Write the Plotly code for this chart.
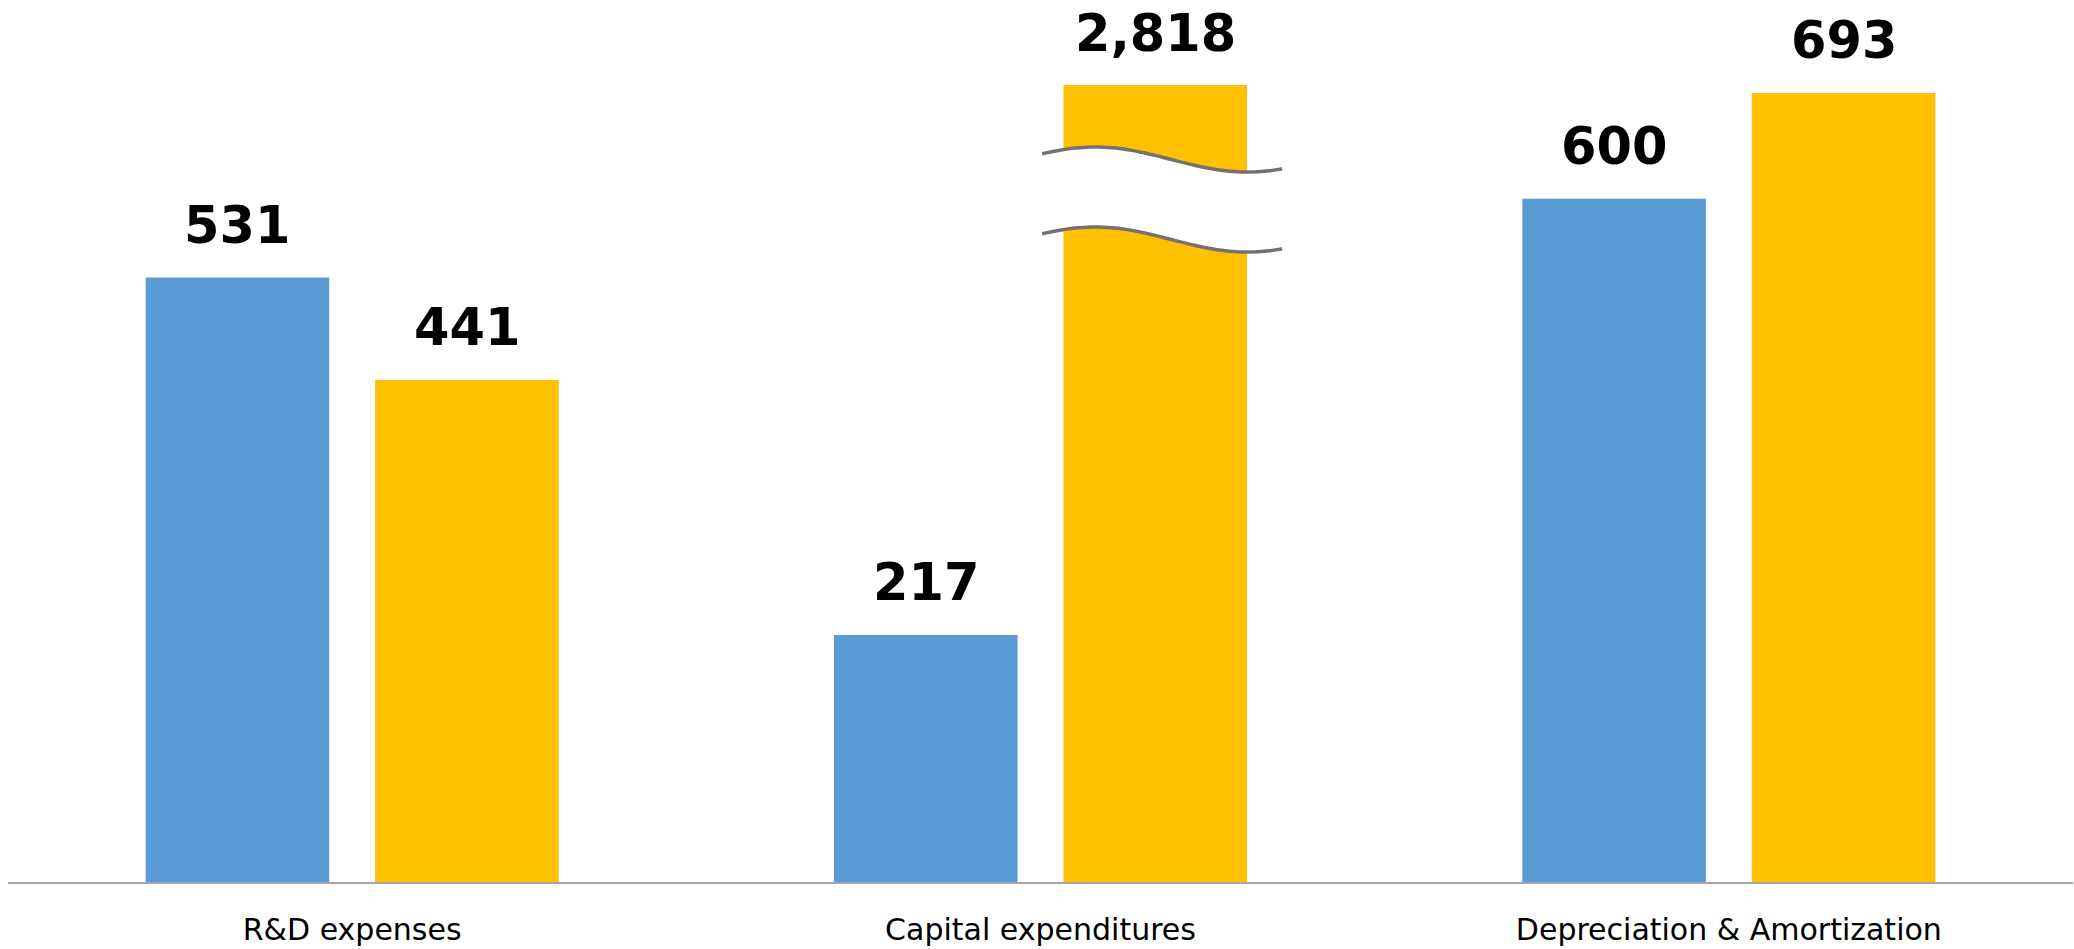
import numpy as np
import plotly.graph_objects as go

# ---------------- data ----------------
categories = ["R&D expenses", "Capital expenditures", "Depreciation & Amortization"]
series_prev = [531, 217, 600]
series_curr = [441, 2818, 693]
labels_prev = ["531", "217", "600"]
labels_curr = ["441", "2,818", "693"]

# ---------------- layout constants ----------------
W, H = 2074, 949
ML, MR, MT, MB = 8, 1, 85, 67
Y_MAX = 700
BARGAP = 1 / 3
plot_w = W - ML - MR
plot_h = H - MT - MB
px_per_unit = plot_h / Y_MAX
cat_w = plot_w / len(categories)
slot = (1 - BARGAP) / 2  # fraction of category per series slot

BLUE = "#5B9BD5"
GOLD = "#FFC000"
LABEL_FONT = dict(family="DejaVu Sans, Verdana, sans-serif", size=51, color="#000000", weight="bold")

fig = go.Figure()
fig.add_bar(x=categories, y=series_prev, name="Previous", marker=dict(color=BLUE, line=dict(width=0)))
fig.add_bar(x=categories, y=series_curr, name="Current", marker=dict(color=GOLD, line=dict(width=0)))

def xpaper(idx, offset_cat, dx_px=0.0):
    return ((idx + 0.5 + offset_cat) * cat_w + dx_px) / plot_w

annotations = []
for i, (v, t) in enumerate(zip(series_prev, labels_prev)):
    annotations.append(dict(x=xpaper(i, -slot / 2), xref="paper", y=min(v, Y_MAX), yref="y",
                            text=t, showarrow=False, xanchor="center", yanchor="middle", yshift=52,
                            font=LABEL_FONT))
for i, (v, t) in enumerate(zip(series_curr, labels_curr)):
    annotations.append(dict(x=xpaper(i, slot / 2), xref="paper", y=min(v, Y_MAX), yref="y",
                            text=t, showarrow=False, xanchor="center", yanchor="middle", yshift=52,
                            font=LABEL_FONT))

# ---------------- axis-break symbol on bars exceeding the axis max ----------------
shapes = []
for i, v in enumerate(series_curr):
    if v <= Y_MAX:
        continue
    dxs = np.linspace(-113, 127, 60)
    A, half_period, peak = 12.5, 152.0, -60.0
    upper_px = 74.5 - A * np.cos(np.pi * (dxs - peak) / half_period)
    lower_px = upper_px + 80.0
    xs = [xpaper(i, slot / 2, d) for d in dxs]
    yu = [Y_MAX - p / px_per_unit for p in upper_px]
    yl = [Y_MAX - p / px_per_unit for p in lower_px]
    fill = "M " + " L ".join(f"{x:.6f},{y:.3f}" for x, y in zip(xs, yu))
    fill += " L " + " L ".join(f"{x:.6f},{y:.3f}" for x, y in zip(xs[::-1], yl[::-1])) + " Z"
    shapes.append(dict(type="path", path=fill, xref="paper", yref="y", fillcolor="white",
                       line=dict(width=0), layer="above"))
    for ys in (yu, yl):
        p = "M " + " L ".join(f"{x:.6f},{y:.3f}" for x, y in zip(xs, ys))
        shapes.append(dict(type="path", path=p, xref="paper", yref="y",
                           line=dict(color="#767171", width=3.5), layer="above"))

fig.update_layout(
    width=W, height=H,
    margin=dict(l=ML, r=MR, t=MT, b=MB),
    paper_bgcolor="white", plot_bgcolor="white",
    barmode="group", bargap=BARGAP, bargroupgap=0.2,
    showlegend=False,
    annotations=annotations,
    shapes=shapes,
    xaxis=dict(showline=True, linecolor="#A6A6A6", linewidth=1.5, showgrid=False, zeroline=False,
               ticks="outside", ticklen=20, tickcolor="rgba(0,0,0,0)",
               tickfont=dict(family="DejaVu Sans, Verdana, sans-serif", size=30, color="#000000")),
    yaxis=dict(range=[0, Y_MAX], visible=False, showgrid=False, zeroline=False),
)

fig.write_html("out.html")
